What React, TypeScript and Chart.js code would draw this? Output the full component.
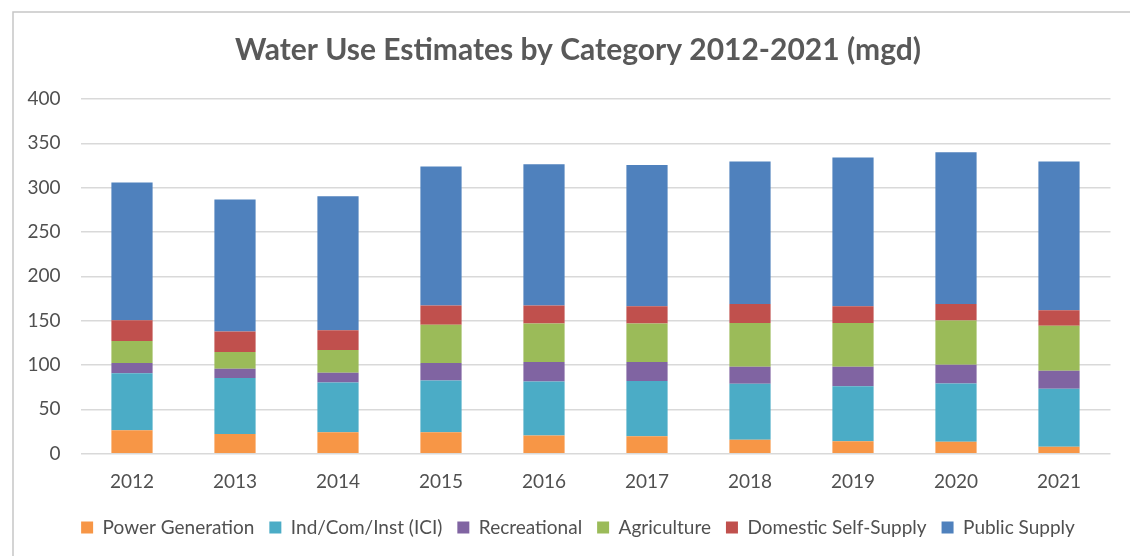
import React, { useEffect, useRef } from "react";
import { Chart, registerables } from "chart.js";

Chart.register(...registerables);

const years = ["2012", "2013", "2014", "2015", "2016", "2017", "2018", "2019", "2020", "2021"];
const powerGeneration = [26.4, 22.3, 24.2, 24.2, 20.4, 19.6, 15.8, 14.0, 13.6, 7.9];
const industrialCommercial = [64.2, 63.0, 56.2, 58.4, 61.1, 62.3, 63.1, 62.2, 65.6, 65.3];
const recreational = [11.7, 10.5, 10.9, 19.7, 21.9, 21.5, 19.2, 21.9, 21.2, 20.4];
const agriculture = [24.9, 18.9, 25.7, 43.0, 43.4, 43.4, 49.4, 49.4, 49.8, 50.6];
const domesticSelfSupply = [23.4, 23.0, 22.2, 21.9, 20.4, 19.6, 21.2, 18.9, 18.5, 17.7];
const publicSupply = [155.1, 149.1, 151.0, 156.6, 159.2, 159.3, 160.7, 167.6, 171.3, 167.5];

const FONT = "Lato";
const TEXT = "#595959";

const frame = {
  id: "frame",
  beforeDraw(chart: any) {
    const ctx = chart.ctx;
    ctx.save();
    ctx.fillStyle = "#ffffff";
    ctx.fillRect(0, 0, chart.width, chart.height);
    ctx.strokeStyle = "#c6c6c6";
    ctx.lineWidth = 1.5;
    ctx.beginPath();
    ctx.moveTo(13, chart.height + 5);
    ctx.lineTo(13, 12);
    ctx.lineTo(chart.width + 5, 12);
    ctx.stroke();
    ctx.restore();
  },
};

export default function App() {
  const ref = useRef<HTMLCanvasElement | null>(null);
  useEffect(() => {
    if (!ref.current) return;
    const ds = (label: string, data: number[], color: string) => ({
      label,
      data,
      backgroundColor: color,
      borderWidth: 0,
      categoryPercentage: 0.8,
      barPercentage: 0.5,
    });
    const chart = new Chart(ref.current, {
      type: "bar",
      data: {
        labels: years,
        datasets: [
          ds("Power Generation", powerGeneration, "#F79646"),
          ds("Ind/Com/Inst (ICI)", industrialCommercial, "#4BACC6"),
          ds("Recreational", recreational, "#8064A2"),
          ds("Agriculture", agriculture, "#9BBB59"),
          ds("Domestic Self-Supply", domesticSelfSupply, "#C0504D"),
          ds("Public Supply", publicSupply, "#4F81BD"),
        ],
      },
      options: {
        animation: false,
        responsive: true,
        maintainAspectRatio: false,
        layout: { padding: { left: 26, right: 0, top: 0, bottom: 9 } },
        plugins: {
          title: {
            display: true,
            text: "Water Use Estimates by Category 2012-2021 (mgd)",
            color: TEXT,
            font: { family: FONT, size: 30, weight: "bold", lineHeight: 1.2 },
            padding: { top: 32, bottom: 31 },
          },
          legend: {
            position: "bottom",
            labels: {
              color: "#505050",
              font: { family: FONT, size: 19 },
              boxWidth: 12,
              boxHeight: 12,
              padding: 15,
            },
          },
          tooltip: { enabled: false },
        },
        scales: {
          x: {
            stacked: true,
            grid: { display: false, drawTicks: false },
            border: { display: false },
            ticks: { color: "#505050", font: { family: FONT, size: 19 }, padding: 17 },
            afterFit: (s: any) => {
              s.height = s.height - 7.5;
            },
          },
          y: {
            stacked: true,
            min: 0,
            max: 400,
            ticks: { stepSize: 50, color: "#505050", font: { family: FONT, size: 19 }, padding: 20 },
            grid: { color: "#d9d9d9", lineWidth: 1.5, drawTicks: false },
            border: { display: false },
            afterFit: (s: any) => {
              s.width = 54.5;
            },
          },
          y2: {
            type: "linear",
            position: "right",
            display: true,
            grid: { display: false, drawTicks: false },
            ticks: { display: false },
            border: { display: false },
            afterFit: (s: any) => {
              s.width = 19.5;
            },
          },
        },
      } as any,
      plugins: [frame],
    });
    return () => chart.destroy();
  }, []);
  return (
    <div style={{ position: "fixed", left: 0, top: 0, width: 1130, height: 556, background: "#fff" }}>
      <canvas ref={ref} />
    </div>
  );
}
